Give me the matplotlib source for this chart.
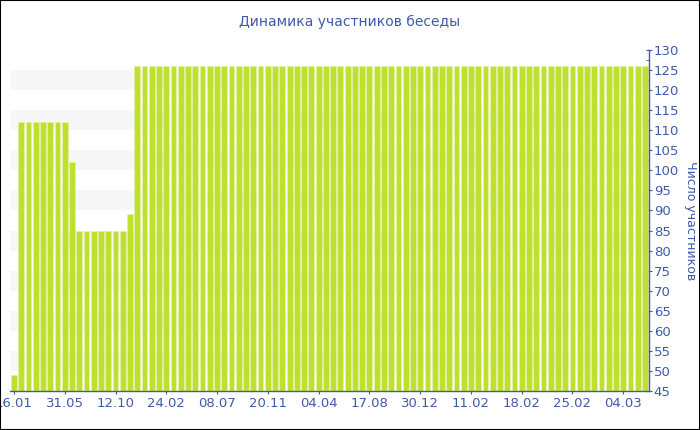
import numpy as np
import matplotlib.pyplot as plt
from matplotlib.patches import Rectangle

# participants per day
values = [49] + [112] * 7 + [102] + [85] * 7 + [89] + [126] * 71
tick_labels = ["16.01", "31.05", "12.10", "24.02", "08.07", "20.11", "04.04",
               "17.08", "30.12", "11.02", "18.02", "25.02", "04.03"]
tick_step = 7

blue = "#3d5ba9"
bar_color = "#bfe02e"

fig = plt.figure(figsize=(7, 4.3), dpi=100)
ax = fig.add_axes([10 / 700, 1 - 391 / 430, 639 / 700, 341 / 430])

x = np.arange(len(values))
ax.bar(x, values, width=0.8, color=bar_color, edgecolor="#e6f2b4", linewidth=0.4, zorder=2)

ax.set_xlim(-0.55, len(values) - 0.45)
ax.set_ylim(45, 130)

# light horizontal bands
for lo in range(50, 130, 10):
    ax.axhspan(lo, lo + 5, color="#f7f7f7", zorder=0, lw=0)

ax.yaxis.tick_right()
ax.yaxis.set_label_position("right")
ax.set_yticks(np.arange(45, 131, 5))
ax.set_yticks(np.arange(47.5, 130, 5), minor=True)
ax.set_xticks(x[::tick_step])
ax.set_xticklabels(tick_labels)

for s in ["left", "top"]:
    ax.spines[s].set_visible(False)
for s in ["right", "bottom"]:
    ax.spines[s].set_color(blue)
    ax.spines[s].set_linewidth(1)

ax.tick_params(axis="y", which="major", direction="inout", length=5, color=blue,
               labelcolor=blue, labelsize=9.5, pad=1)
ax.tick_params(axis="y", which="minor", direction="in", length=2.5, color=blue)
ax.tick_params(axis="x", direction="inout", length=4, color=blue,
               labelcolor=blue, labelsize=9.5, pad=2)

ax.set_ylabel("Число участников", rotation=270, color=blue, fontsize=9, labelpad=13)
fig.text(0.5, 1 - 22 / 430, "Динамика участников беседы", ha="center", va="center",
         color=blue, fontsize=10)

fig.patches.append(Rectangle((0, 0), 1, 1, transform=fig.transFigure, fill=False,
                             edgecolor="black", linewidth=1.5, zorder=10))

fig.savefig("out.png", dpi=100)
